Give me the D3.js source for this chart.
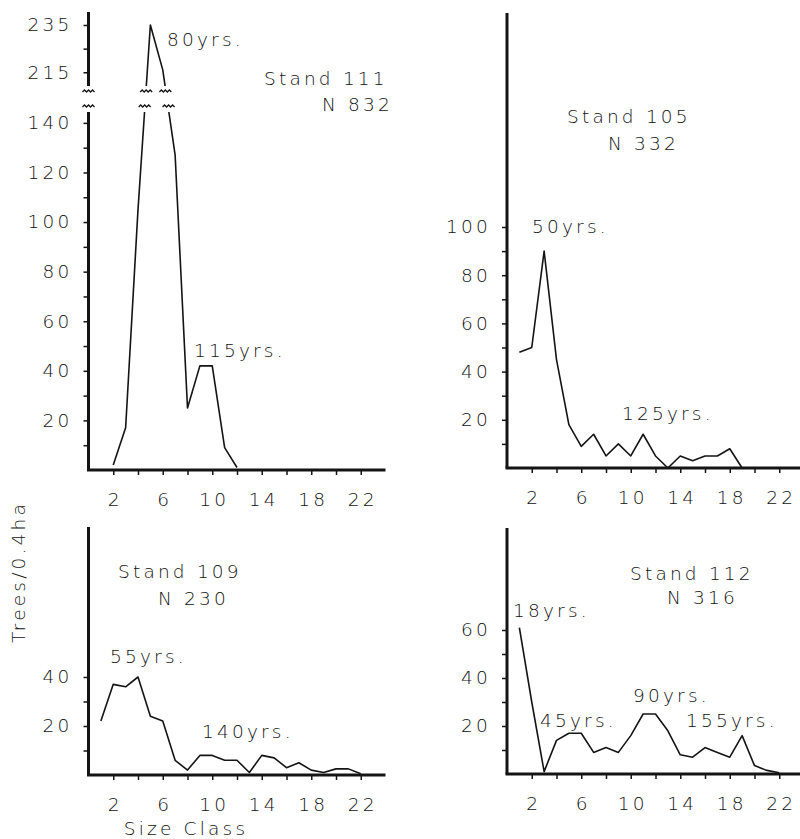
<!DOCTYPE html>
<html>
<head>
<meta charset="utf-8">
<script src="https://cdn.jsdelivr.net/npm/d3@7"></script>
<style>
  body { margin: 0; background: #fff; }
  text { font-family: "DejaVu Sans", sans-serif; font-weight: 200; font-size: 18.5px; fill: #111; letter-spacing: 3.2px; }
</style>
</head>
<body>
<svg class="chart" width="800" height="839"></svg>
<script>
// Size classes and tree counts (trees / 0.4 ha)
var sizeClass111 = [2, 3, 4, 5, 6, 7, 8, 9, 10, 11, 12];
var trees111 = [2, 17, 105, 235, 216, 127, 25, 42, 42, 9, 1];

var sizeClass105 = [1, 2, 3, 4, 5, 6, 7, 8, 9, 10, 11, 12, 13, 14, 15, 16, 17, 18, 19];
var trees105 = [48, 50, 90, 45, 18, 9, 14, 5, 10, 5, 14, 5, 0, 5, 3, 5, 5, 8, 0];

var sizeClass109 = [1, 2, 3, 4, 5, 6, 7, 8, 9, 10, 11, 12, 13, 14, 15, 16, 17, 18, 19, 20, 21, 22];
var trees109 = [22, 37, 36, 40, 24, 22, 6, 2, 8, 8, 6, 6, 1, 8, 7, 3, 5, 2, 1, 2.5, 2.5, 0.5];

var sizeClass112 = [1, 2, 3, 4, 5, 6, 7, 8, 9, 10, 11, 12, 13, 14, 15, 16, 17, 18, 19, 20, 21, 22];
var trees112 = [61, 30, 1, 14, 17, 17, 9, 11, 9, 16, 25, 25, 18, 8, 7, 11, 9, 7, 16, 3.5, 1.5, 0.5];

// Tick values / labels
var xTicks = [2, 4, 6, 8, 10, 12, 14, 16, 18, 20, 22];
var xLabels = [2, 6, 10, 14, 18, 22];
var yTicks111 = [10, 20, 30, 40, 50, 60, 70, 80, 90, 100, 110, 120, 130, 140, 215, 225, 235];
var yLabels111 = [20, 40, 60, 80, 100, 120, 140, 215, 235];
var yTicks105 = [10, 20, 30, 40, 50, 60, 70, 80, 90, 100];
var yLabels105 = [20, 40, 60, 80, 100];
var yTicks109 = [10, 20, 30, 40];
var yLabels109 = [20, 40];
var yTicks112 = [10, 20, 30, 40, 50, 60];
var yLabels112 = [20, 40, 60];

// Annotation texts
var notes111 = ["80yrs.", "115yrs.", "Stand 111", "N 832"];
var notes105 = ["Stand 105", "N 332", "50yrs.", "125yrs."];
var notes109 = ["Stand 109", "N 230", "55yrs.", "140yrs."];
var notes112 = ["Stand 112", "N 316", "18yrs.", "45yrs.", "90yrs.", "155yrs."];

/*
  LAYOUT: one entry per panel, pixel placement only
*/
var panels = [
  { classes: sizeClass111, trees: trees111, left: 88.5, top: 12,
    yDomain: [0, 146, 207.5, 240.5], yRange: [470, 108, 90, 12],
    yTicks: yTicks111, yLabels: yLabels111, broken: true,
    notes: notes111, notePos: [[167, 46], [194, 357], [264, 85], [322, 111]] },
  { classes: sizeClass105, trees: trees105, left: 507, top: 13,
    yDomain: [0, 100], yRange: [468, 227],
    yTicks: yTicks105, yLabels: yLabels105,
    notes: notes105, notePos: [[567, 123], [608, 150], [532, 233], [622, 420]] },
  { classes: sizeClass109, trees: trees109, left: 88.5, top: 527,
    yDomain: [0, 40], yRange: [775, 677],
    yTicks: yTicks109, yLabels: yLabels109,
    notes: notes109, notePos: [[118, 578], [158, 605], [110, 663], [202, 738]] },
  { classes: sizeClass112, trees: trees112, left: 507, top: 528,
    yDomain: [0, 60], yRange: [774, 630],
    yTicks: yTicks112, yLabels: yLabels112,
    notes: notes112, notePos: [[630, 580], [667, 604], [513, 617], [540, 727], [633, 702], [686, 727]] }
];

var chart = d3.select(".chart");
var ink = "#141414";

// where a polyline crosses a horizontal pixel line
function crossings(pts, yc) {
  var out = [];
  for (var i = 1; i < pts.length; i++) {
    var a = pts[i - 1], b = pts[i];
    if ((a[1] - yc) * (b[1] - yc) <= 0 && a[1] != b[1]) {
      out.push(a[0] + (b[0] - a[0]) * (yc - a[1]) / (b[1] - a[1]));
    }
  }
  return out;
}

function zigzag(g, cx, cy) {
  g.append("path")
    .attr("d", "M" + (cx - 6) + "," + cy + " l2,-2 l2,2 l2,-2 l2,2 l2,-2 l2,2")
    .attr("fill", "none")
    .attr("stroke", ink)
    .attr("stroke-width", 1.3);
}

panels.forEach(function(p, k) {
  var g = chart.append("g").attr("class", "panel");
  var x = d3.scaleLinear().domain([0, 24]).range([p.left, p.left + 297]);
  var y = d3.scaleLinear().domain(p.yDomain).range(p.yRange);
  var base = y(0);

  // x axis ticks + labels
  g.append("g")
    .attr("transform", "translate(0," + base + ")")
    .style("color", ink)
    .call(d3.axisBottom(x)
      .tickValues(xTicks)
      .tickSize(5)
      .tickPadding(18)
      .tickFormat(function(d) { return xLabels.indexOf(d) >= 0 ? d : ""; }))
    .call(function(a) { a.select(".domain").remove(); })
    .call(function(a) { a.selectAll(".tick line").attr("stroke-width", 1.5); })
    .call(function(a) { a.selectAll(".tick text").attr("dx", "1.5px"); });

  // y axis ticks + labels
  g.append("g")
    .attr("transform", "translate(" + p.left + ",0)")
    .style("color", ink)
    .call(d3.axisLeft(y)
      .tickValues(p.yTicks)
      .tickSize(5)
      .tickPadding(11)
      .tickFormat(function(d) { return p.yLabels.indexOf(d) >= 0 ? d : ""; }))
    .call(function(a) { a.select(".domain").remove(); })
    .call(function(a) { a.selectAll(".tick line").attr("stroke-width", 1.5); });

  // heavy axis lines
  g.append("line")
    .attr("x1", p.left - 1.5).attr("x2", Math.min(x(24), 800))
    .attr("y1", base).attr("y2", base)
    .attr("stroke", ink).attr("stroke-width", 3);
  if (p.broken) {
    g.append("line").attr("x1", p.left).attr("x2", p.left)
      .attr("y1", base).attr("y2", 112)
      .attr("stroke", ink).attr("stroke-width", 3);
    g.append("line").attr("x1", p.left).attr("x2", p.left)
      .attr("y1", 86).attr("y2", p.top)
      .attr("stroke", ink).attr("stroke-width", 3);
  } else {
    g.append("line").attr("x1", p.left).attr("x2", p.left)
      .attr("y1", base).attr("y2", p.top)
      .attr("stroke", ink).attr("stroke-width", 3);
  }

  // data line
  var pts = p.classes.map(function(c, i) { return [x(c), y(p.trees[i])]; });
  var path = g.append("path")
    .attr("d", d3.line()(pts))
    .attr("fill", "none")
    .attr("stroke", ink)
    .attr("stroke-width", 1.6)
    .attr("stroke-linejoin", "round");

  if (p.broken) {
    var clip = chart.append("clipPath").attr("id", "brk" + k);
    clip.append("rect").attr("x", 0).attr("y", 0).attr("width", 800).attr("height", 86);
    clip.append("rect").attr("x", 0).attr("y", 112).attr("width", 800).attr("height", 400);
    path.attr("clip-path", "url(#brk" + k + ")");
    zigzag(g, p.left, 92);
    zigzag(g, p.left, 107);
    crossings(pts, 88).forEach(function(cx) { zigzag(g, cx, 92); });
    crossings(pts, 110).forEach(function(cx) { zigzag(g, cx, 107); });
  }

  // annotations
  p.notes.forEach(function(t, i) {
    g.append("text")
      .attr("x", p.notePos[i][0])
      .attr("y", p.notePos[i][1])
      .text(t);
  });
});

// shared axis titles
chart.append("text")
  .attr("transform", "translate(25,572) rotate(-90)")
  .attr("text-anchor", "middle")
  .text("Trees/0.4ha");
chart.append("text")
  .attr("x", 186)
  .attr("y", 835)
  .attr("text-anchor", "middle")
  .text("Size Class");
</script>
</body>
</html>
